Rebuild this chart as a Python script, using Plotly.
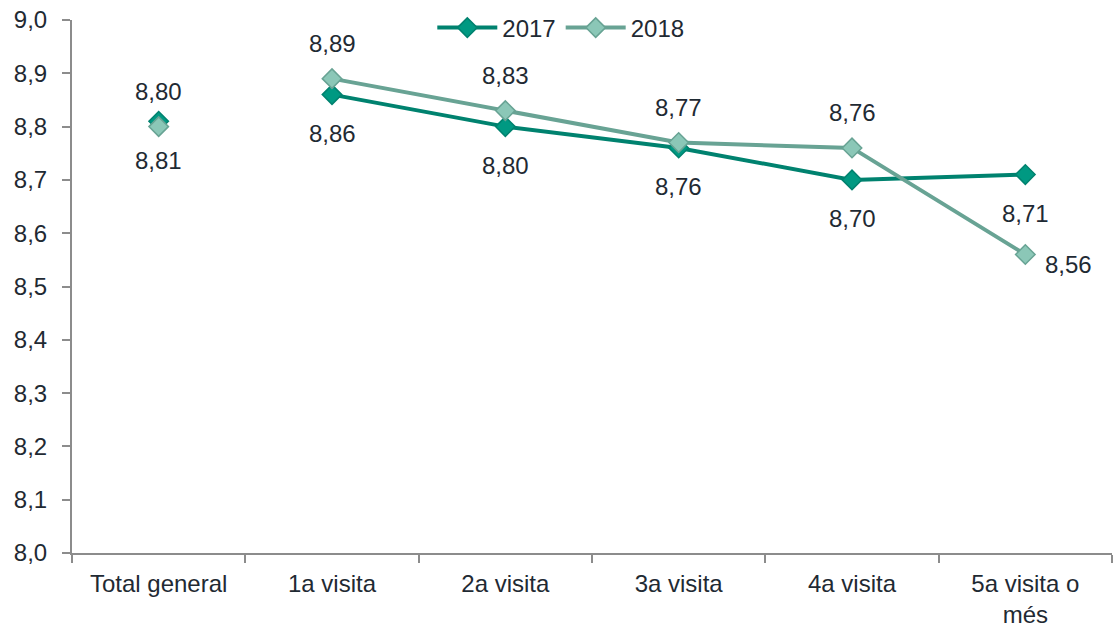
import plotly.graph_objects as go

categories = ["Total general", "1a visita", "2a visita", "3a visita", "4a visita", "5a visita o<br>més"]
values_2017 = [8.81, 8.86, 8.80, 8.76, 8.70, 8.71]
values_2018 = [8.80, 8.89, 8.83, 8.77, 8.76, 8.56]

C2017_LINE = "#00826F"
C2017_MARK = "#009982"
C2018_LINE = "#68A394"
C2018_MARK = "#8BC7B7"
TXT = "#1F2A33"
FONT = "Liberation Sans, Arial, sans-serif"
FS = 24


def fmt(v):
    return f"{v:.2f}".replace(".", ",")


fig = go.Figure()

# Total general se muestra solo como punto, sin conectar con las visitas
fig.add_trace(go.Scatter(
    x=categories[:1], y=values_2017[:1], mode="markers", showlegend=False,
    marker=dict(symbol="diamond", size=15, color=C2017_MARK, line=dict(color=C2017_LINE, width=1.5)),
))
fig.add_trace(go.Scatter(
    x=categories[:1], y=values_2018[:1], mode="markers", showlegend=False,
    marker=dict(symbol="diamond", size=15, color=C2018_MARK, line=dict(color=C2018_LINE, width=1.5)),
))
fig.add_trace(go.Scatter(
    x=categories[1:], y=values_2017[1:], mode="lines+markers", name="2017",
    line=dict(color=C2017_LINE, width=4),
    marker=dict(symbol="diamond", size=15, color=C2017_MARK, line=dict(color=C2017_LINE, width=1.5)),
))
fig.add_trace(go.Scatter(
    x=categories[1:], y=values_2018[1:], mode="lines+markers", name="2018",
    line=dict(color=C2018_LINE, width=4),
    marker=dict(symbol="diamond", size=15, color=C2018_MARK, line=dict(color=C2018_LINE, width=1.5)),
))

# etiquetas: 2017 debajo, 2018 encima (último punto de 2018 a la derecha)
for i, (cat, v) in enumerate(zip(categories, values_2017)):
    fig.add_annotation(x=cat, y=v, text=fmt(v), showarrow=False, yshift=-39,
                       font=dict(size=FS, color=TXT, family=FONT))
for i, (cat, v) in enumerate(zip(categories, values_2018)):
    if i == len(categories) - 1:
        fig.add_annotation(x=cat, y=v, text=fmt(v), showarrow=False, xshift=43, yshift=-10,
                           font=dict(size=FS, color=TXT, family=FONT))
    else:
        fig.add_annotation(x=cat, y=v, text=fmt(v), showarrow=False, yshift=35,
                           font=dict(size=FS, color=TXT, family=FONT))

fig.update_layout(
    width=1114, height=628,
    margin=dict(l=72, r=2, t=20, b=75, autoexpand=False),
    paper_bgcolor="white", plot_bgcolor="white",
    separators=", ",
    font=dict(family=FONT, size=FS, color=TXT),
    legend=dict(orientation="h", x=0.47, xanchor="center", y=0.985, yanchor="middle",
                font=dict(size=FS, color=TXT), bgcolor="rgba(0,0,0,0)", itemwidth=60),
    xaxis=dict(
        type="category", range=[-0.5, len(categories) - 0.5],
        showgrid=False, showline=True, linecolor="#8C8C8C", linewidth=2,
        ticks="outside", tickson="boundaries", ticklen=8, tickcolor="#8C8C8C", tickwidth=2,
        ticklabelstandoff=8,
        tickfont=dict(size=FS, color=TXT), automargin=False,
    ),
    yaxis=dict(
        range=[8.0, 9.0], dtick=0.1, tickformat=".1f", showgrid=False, zeroline=False,
        showline=True, linecolor="#8C8C8C", linewidth=2,
        ticks="outside", ticklen=8, tickcolor="#8C8C8C", tickwidth=2,
        ticklabelstandoff=10,
        tickfont=dict(size=FS, color=TXT), automargin=False,
    ),
)

fig.write_html("out.html", config={"displayModeBar": False},
               post_script="document.body.style.margin='0';")
